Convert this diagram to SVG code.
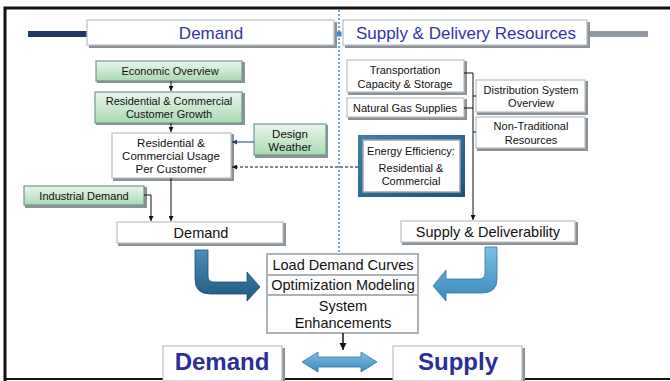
<svg xmlns="http://www.w3.org/2000/svg" width="670" height="381" viewBox="0 0 670 381">
  <defs>
    <linearGradient id="green" x1="0" y1="0" x2="0" y2="1">
      <stop offset="0" stop-color="#eaf6ec"/>
      <stop offset="1" stop-color="#a9d9b2"/>
    </linearGradient>
    <linearGradient id="eeBorder" x1="0" y1="0" x2="1" y2="1">
      <stop offset="0" stop-color="#3f7fa8"/>
      <stop offset="1" stop-color="#1f5279"/>
    </linearGradient>
    <linearGradient id="darkArrow" x1="0" y1="0" x2="0" y2="1">
      <stop offset="0" stop-color="#4a8dba"/>
      <stop offset="1" stop-color="#1f5a82"/>
    </linearGradient>
    <linearGradient id="lightArrow" x1="0" y1="0" x2="0" y2="1">
      <stop offset="0" stop-color="#7cc0e6"/>
      <stop offset="1" stop-color="#3a89bb"/>
    </linearGradient>
    <marker id="ah" viewBox="0 0 6 6" refX="6" refY="3" markerWidth="5" markerHeight="5" orient="auto">
      <path d="M0,0 L6,3 L0,6 z" fill="#111"/>
    </marker>
    <marker id="ahNavy" viewBox="0 0 6 6" refX="6" refY="3" markerWidth="5" markerHeight="5" orient="auto">
      <path d="M0,0 L6,3 L0,6 z" fill="#1f3a6a"/>
    </marker>
  </defs>
  <style>
    text { font-family: "Liberation Sans", Arial, sans-serif; fill: #111; text-anchor: middle; }
    .shadow { fill: #8c9196; }
    .plain { fill: #ffffff; stroke: #b8c0c8; stroke-width: 1.2; }
    .greenbox { fill: url(#green); stroke: #6f9a93; stroke-width: 1.2; }
    .hdr { font-size: 17px; fill: #3434a8; }
    .sm { font-size: 11px; }
    .md { font-size: 11.5px; }
    .lg { font-size: 14.5px; }
    .big { font-size: 24px; font-weight: bold; fill: #2a2e96; }
    .wire { fill: none; stroke: #111; stroke-width: 1; }
  </style>

  <!-- page frame -->
  <path d="M5,381 L5,8 L670,8" fill="none" stroke="#111" stroke-width="3"/>
  <line x1="5" y1="379" x2="670" y2="379" stroke="#111" stroke-width="2"/>

  <!-- header bars -->
  <rect x="28" y="31" width="61" height="6" fill="#1f3864"/>
  <rect x="588" y="31" width="60" height="6" fill="#8f98a3"/>

  <!-- centre divider -->
  <line x1="339" y1="10" x2="339" y2="260" stroke="#3d8ccc" stroke-width="1.5" stroke-dasharray="2,2"/>
  <rect x="336.5" y="31.5" width="5" height="5" fill="#3d8ccc"/>

  <g id="header-demand">
    <rect class="shadow" x="89" y="22" width="248" height="26"/>
    <rect class="plain" x="87" y="20" width="247" height="25"/>
    <text class="hdr" x="211" y="39">Demand</text>
  </g>
  <g id="header-supply">
    <rect class="shadow" x="345" y="22" width="245" height="26"/>
    <rect class="plain" x="343" y="20" width="244" height="25"/>
    <text class="hdr" x="466" y="39">Supply &amp; Delivery Resources</text>
  </g>

  <g id="economic-overview">
    <rect class="shadow" x="97" y="62" width="148" height="21"/>
    <rect class="greenbox" x="96" y="61" width="146" height="20"/>
    <text class="sm" x="170" y="75">Economic Overview</text>
  </g>
  <g id="customer-growth">
    <rect class="shadow" x="96" y="93" width="149" height="32"/>
    <rect class="greenbox" x="95" y="92" width="147" height="31"/>
    <text class="sm" x="169" y="105">Residential &amp; Commercial</text>
    <text class="sm" x="169" y="118">Customer Growth</text>
  </g>
  <g id="usage-per-customer">
    <rect class="shadow" x="113" y="134" width="121" height="47"/>
    <rect class="plain" x="112" y="133" width="119" height="45"/>
    <text class="md" x="171" y="147">Residential &amp;</text>
    <text class="md" x="171" y="160">Commercial Usage</text>
    <text class="md" x="171" y="173">Per Customer</text>
  </g>
  <g id="design-weather">
    <rect class="shadow" x="255" y="125" width="73" height="33"/>
    <rect class="greenbox" x="254" y="124" width="72" height="31"/>
    <text class="md" x="290" y="138">Design</text>
    <text class="md" x="290" y="151">Weather</text>
  </g>
  <g id="industrial-demand">
    <rect class="shadow" x="25" y="187" width="122" height="21"/>
    <rect class="greenbox" x="24" y="186" width="120" height="19"/>
    <text class="sm" x="84" y="199.5">Industrial Demand</text>
  </g>
  <g id="demand-total">
    <rect class="shadow" x="118" y="223" width="168" height="23"/>
    <rect class="plain" x="117" y="222" width="166" height="21"/>
    <text class="lg" x="201" y="238">Demand</text>
  </g>

  <g id="transportation">
    <rect class="shadow" x="348" y="61" width="119" height="34"/>
    <rect class="plain" x="347" y="60" width="117" height="32"/>
    <text class="sm" x="405" y="74">Transportation</text>
    <text class="sm" x="405" y="88">Capacity &amp; Storage</text>
  </g>
  <g id="natural-gas">
    <rect class="shadow" x="348" y="99" width="119" height="21"/>
    <rect class="plain" x="347" y="98" width="117" height="19"/>
    <text class="sm" x="405" y="112">Natural Gas Supplies</text>
  </g>
  <g id="distribution-system">
    <rect class="shadow" x="477" y="81" width="111" height="34"/>
    <rect class="plain" x="476" y="80" width="109" height="32"/>
    <text class="sm" x="531" y="94">Distribution System</text>
    <text class="sm" x="531" y="107">Overview</text>
  </g>
  <g id="non-traditional">
    <rect class="shadow" x="477" y="118" width="111" height="33"/>
    <rect class="plain" x="476" y="117" width="109" height="31"/>
    <text class="sm" x="531" y="130">Non-Traditional</text>
    <text class="sm" x="531" y="144">Resources</text>
  </g>
  <g id="energy-efficiency">
    <rect x="358" y="135" width="107" height="62" fill="url(#eeBorder)"/>
    <rect x="363" y="140" width="97" height="52" fill="#ffffff" stroke="#9aa4ae" stroke-width="1.5"/>
    <text class="sm" x="411" y="155">Energy Efficiency:</text>
    <text class="sm" x="411" y="172">Residential &amp;</text>
    <text class="sm" x="411" y="185">Commercial</text>
  </g>
  <g id="supply-deliverability">
    <rect class="shadow" x="402" y="222" width="176" height="23"/>
    <rect class="plain" x="401" y="221" width="174" height="21"/>
    <text class="lg" x="488" y="237">Supply &amp; Deliverability</text>
  </g>

  <g id="planning-stack">
    <rect x="267" y="254" width="151" height="79" fill="#ffffff" stroke="#aab2ba" stroke-width="2"/>
    <line x1="267" y1="275" x2="418" y2="275" stroke="#aab2ba" stroke-width="2"/>
    <line x1="267" y1="295" x2="418" y2="295" stroke="#aab2ba" stroke-width="2"/>
    <text class="lg" x="343" y="270">Load Demand Curves</text>
    <text class="lg" x="343" y="290">Optimization Modeling</text>
    <text class="lg" x="343" y="311">System</text>
    <text class="lg" x="343" y="328">Enhancements</text>
  </g>

  <g id="demand-label">
    <rect class="shadow" x="165" y="348" width="120" height="33"/>
    <rect class="plain" x="163" y="346" width="119" height="35"/>
    <text class="big" x="222" y="370">Demand</text>
  </g>
  <g id="supply-label">
    <rect class="shadow" x="395" y="348" width="130" height="33"/>
    <rect class="plain" x="393" y="346" width="129" height="35"/>
    <text class="big" x="458" y="370">Supply</text>
  </g>

  <g id="connectors">
    <!-- demand side -->
    <line class="wire" x1="171" y1="81" x2="171" y2="91" marker-end="url(#ah)"/>
    <line class="wire" x1="171" y1="123" x2="171" y2="132" marker-end="url(#ah)"/>
    <line x1="254" y1="142" x2="232" y2="142" stroke="#1f3a6a" stroke-width="1" marker-end="url(#ahNavy)"/>
    <line class="wire" x1="358" y1="167" x2="232" y2="167" stroke-dasharray="3,2" marker-end="url(#ah)"/>
    <line class="wire" x1="171" y1="178" x2="171" y2="221" marker-end="url(#ah)"/>
    <path class="wire" d="M144,195 H151 V221" marker-end="url(#ah)"/>
    <!-- supply side -->
    <path class="wire" d="M464,73 H473 M464,108 H473 M473,96 H476 M473,132 H476"/>
    <line class="wire" x1="473" y1="73" x2="473" y2="220" marker-end="url(#ah)"/>
    <!-- into demand / supply balance -->
    <line x1="343" y1="333" x2="343" y2="350" stroke="#111" stroke-width="1.5" marker-end="url(#ah)"/>

    <!-- curved block arrows -->
    <path d="M195,250 H208 V276 Q208,282 214,282 H247 V272 L260,287 L247,301 V294 H210 Q195,294 195,279 Z" fill="url(#darkArrow)" stroke="#1d4f73" stroke-width="0.8"/>
    <path d="M485,247 H497 V279 Q497,293 482,293 H446 V301 L433,286 L446,270 V279 H479 Q485,279 485,273 Z" fill="url(#lightArrow)" stroke="#2f77a6" stroke-width="0.8"/>
    <!-- double arrow -->
    <path d="M302,362 L318,352 V357 H361 V352 L377,362 L361,372 V367 H318 V372 Z" fill="url(#lightArrow)" stroke="#2f77a6" stroke-width="0.8"/>
  </g>
</svg>
